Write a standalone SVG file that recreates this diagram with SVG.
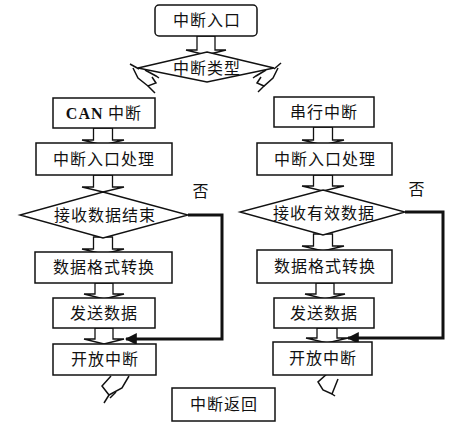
<svg xmlns="http://www.w3.org/2000/svg" width="462" height="429" viewBox="0 0 462 429">
<defs>
<style>
.box{fill:#fff;stroke:#111;stroke-width:1.5}
.dia{fill:#fff;stroke:#111;stroke-width:1.4}
.blk{fill:#fff;stroke:#111;stroke-width:1.3;stroke-linejoin:miter}
.ln{fill:none;stroke:#111;stroke-width:1.5}
.loop{fill:none;stroke:#111;stroke-width:3}
.t{font-family:"Noto Sans CJK SC","Noto Sans",sans-serif;font-size:16px;letter-spacing:1px;text-anchor:middle;fill:#111}
.lat{font-family:"Liberation Serif",serif;font-weight:bold}
</style>
<marker id="ah" viewBox="0 0 10 10" refX="9" refY="5" markerWidth="4" markerHeight="4" orient="auto" markerUnits="strokeWidth">
<path d="M0,0 L10,5 L0,10 z" fill="#111"/>
</marker>
</defs>
<rect width="462" height="429" fill="#fff"/>

<g id="connectors">
<polygon class="blk" points="197,36 197,50 186,50 206,55 226,50 215,50 215,36"/>
<polyline class="ln" points="130,64 139,69"/>
<polyline class="ln" points="133,68 138,78 148,86 156,83 152,77"/>
<polyline class="ln" points="148,86 155,93"/>
<polyline class="ln" points="145,70 156,76 159,78"/>
<polyline class="ln" points="281,63 274,69"/>
<polyline class="ln" points="278,68 273,78 264,86 257,83 261,77"/>
<polyline class="ln" points="264,86 258,92"/>
<polyline class="ln" points="266,70 256,76 253,78"/>
<polygon class="blk" points="93.5,128 93.5,140 82,140 103,145 124,140 112.5,140 112.5,128"/>
<polygon class="blk" points="93.5,175 93.5,187 82,187 103,192 124,187 112.5,187 112.5,175"/>
<polygon class="blk" points="93.5,237 93.5,249 82,249 103,254 124,249 112.5,249 112.5,237"/>
<polygon class="blk" points="95,283 95,294 84,294 104,299 124,294 113,294 113,283"/>
<polygon class="blk" points="95,328 95,339 84,339 104,344 124,339 113,339 113,328"/>
<polygon class="blk" points="313.5,127 313.5,140 302,140 323,145 344,140 332.5,140 332.5,127"/>
<polygon class="blk" points="313.5,175 313.5,186 302,186 323,191 344,186 332.5,186 332.5,175"/>
<polygon class="blk" points="313.5,234 313.5,246 302,246 323,251 344,246 332.5,246 332.5,234"/>
<polygon class="blk" points="316,283 316,294 305,294 325,299 345,294 334,294 334,283"/>
<polygon class="blk" points="317,328 317,338 306,338 327,343 348,338 337,338 337,328"/>
<polyline class="loop" points="188,215 222,215 222,339 126,339" marker-end="url(#ah)"/>
<polyline class="loop" points="405,212 443,212 443,338 348,338" marker-end="url(#ah)"/>
<polyline class="ln" points="111,376 102,386 109,395 122,388 129,376"/>
<polyline class="ln" points="109,395 104,403"/>
<polyline class="ln" points="116,392 110,398"/>
<polyline class="ln" points="328,373 318,382 323,390 332,394 338,379"/>
<polyline class="ln" points="332,394 335,396"/>
</g>

<g id="n_entry"><rect class="box" x="155" y="5" width="102" height="31" rx="4"/><text class="t" x="207" y="26">中断入口</text></g>
<g id="n_type"><polygon class="dia" points="207,52 274,68 207,82 138,68"/><text class="t" x="207" y="74">中断类型</text></g>
<g id="n_can"><rect class="box" x="53" y="98" width="102" height="30"/><text class="t" x="104" y="119"><tspan class="lat">CAN</tspan> 中断</text></g>
<g id="n_serial"><rect class="box" x="274" y="97" width="100" height="30"/><text class="t" x="324" y="118">串行中断</text></g>
<g id="n_proc_l"><rect class="box" x="36" y="143" width="136" height="32"/><text class="t" x="104" y="165">中断入口处理</text></g>
<g id="n_proc_r"><rect class="box" x="257" y="143" width="135" height="32"/><text class="t" x="325" y="165">中断入口处理</text></g>
<g id="n_dec_l"><polygon class="dia" points="103,192 188,215 103,238 20,215"/><text class="t" x="105" y="221">接收数据结束</text></g>
<g id="n_dec_r"><polygon class="dia" points="323,190 405,212 323,235 240,212"/><text class="t" x="324" y="219">接收有效数据</text></g>
<g id="n_no_l"><text class="t" x="201" y="197">否</text></g>
<g id="n_no_r"><text class="t" x="417" y="195">否</text></g>
<g id="n_fmt_l"><rect class="box" x="35" y="252" width="137" height="31"/><text class="t" x="104" y="273">数据格式转换</text></g>
<g id="n_fmt_r"><rect class="box" x="257" y="250" width="135" height="33"/><text class="t" x="325" y="272">数据格式转换</text></g>
<g id="n_send_l"><rect class="box" x="53" y="298" width="102" height="30"/><text class="t" x="104" y="319">发送数据</text></g>
<g id="n_send_r"><rect class="box" x="274" y="298" width="100" height="30"/><text class="t" x="324" y="319">发送数据</text></g>
<g id="n_open_l"><rect class="box" x="53" y="344" width="103" height="31"/><text class="t" x="105" y="365">开放中断</text></g>
<g id="n_open_r"><rect class="box" x="273" y="342" width="99" height="33"/><text class="t" x="323" y="364">开放中断</text></g>
<g id="n_ret"><rect class="box" x="172" y="388" width="103" height="33"/><text class="t" x="224" y="410">中断返回</text></g>
</svg>
